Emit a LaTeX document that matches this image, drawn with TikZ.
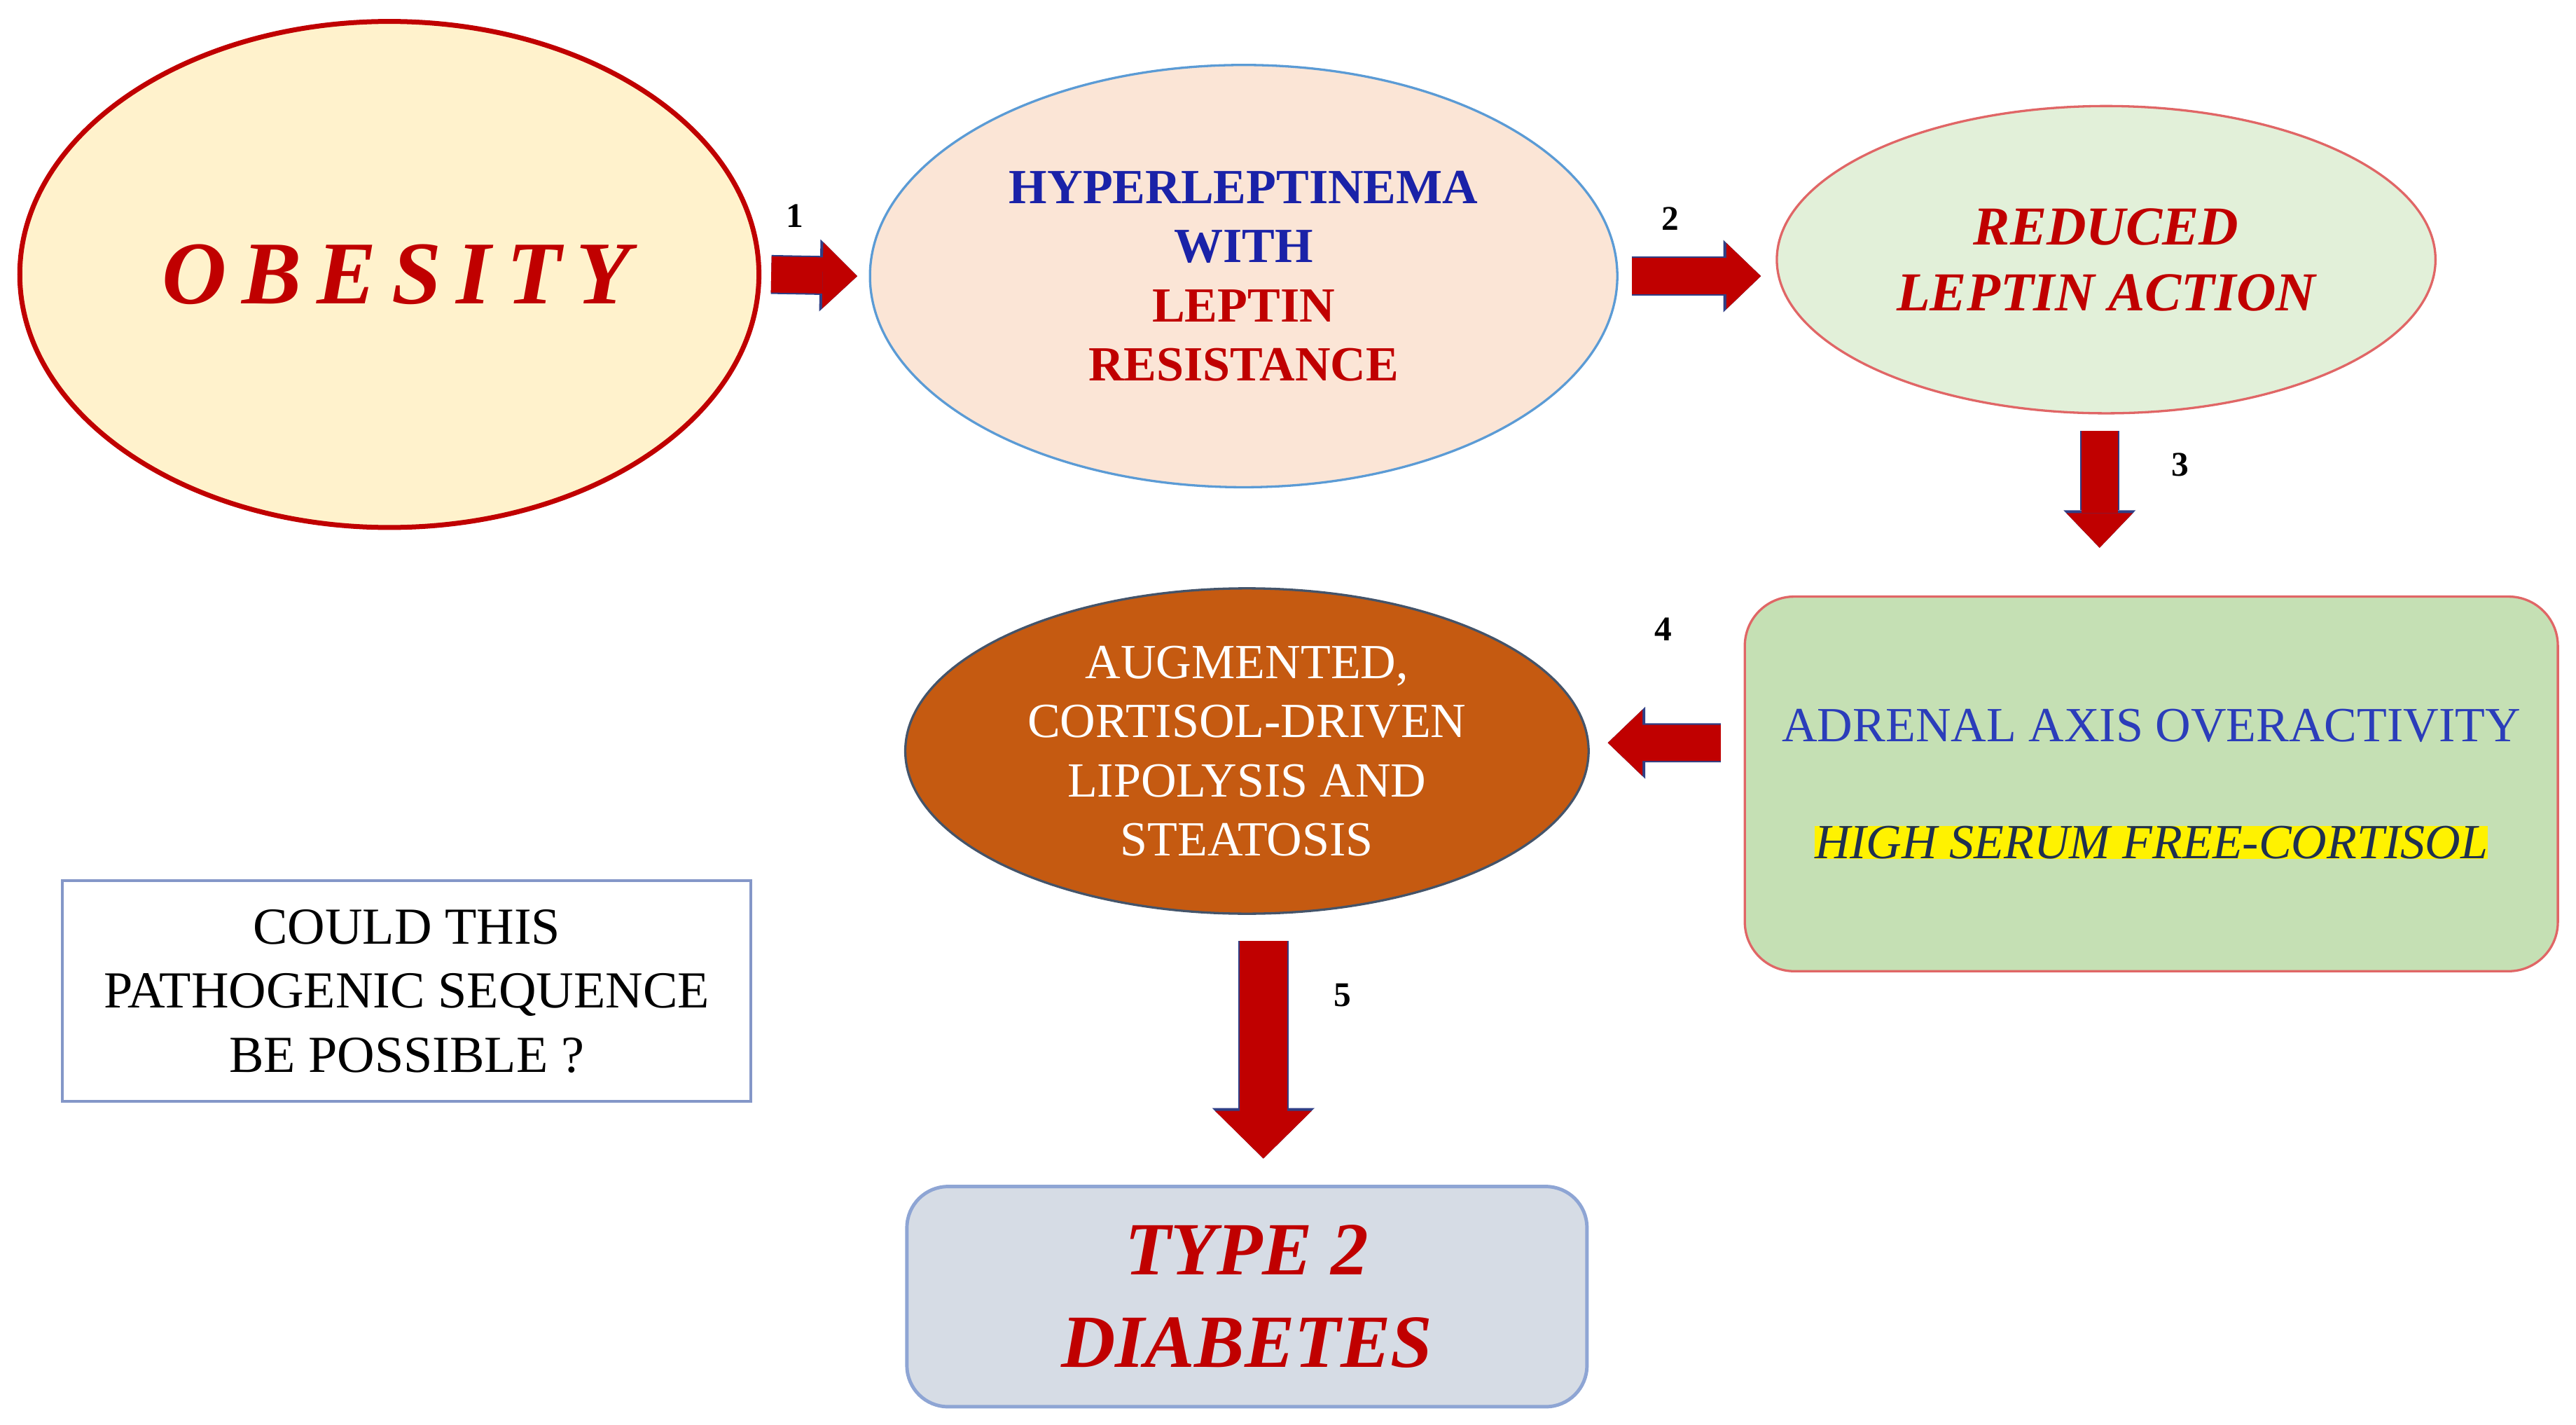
\documentclass[tikz,border=0pt]{standalone}
\usepackage{fontspec}
\setmainfont{Liberation Serif}
\usetikzlibrary{shapes.geometric,arrows.meta}
\definecolor{dred}{HTML}{C00000}
\definecolor{obesityfill}{HTML}{FFF2CC}
\definecolor{hyperfill}{HTML}{FBE5D6}
\definecolor{hyperline}{HTML}{5B9BD5}
\definecolor{textblue}{HTML}{1A22A8}
\definecolor{reducedfill}{HTML}{E2F0D9}
\definecolor{reducedline}{HTML}{E06666}
\definecolor{adrenalfill}{HTML}{C5E0B4}
\definecolor{adrenalblue}{HTML}{2B3DBA}
\definecolor{serumtext}{HTML}{1F3050}
\definecolor{lipofill}{HTML}{C55A11}
\definecolor{lipoline}{HTML}{44546A}
\definecolor{queryline}{HTML}{8497C8}
\definecolor{diabfill}{HTML}{D6DCE5}
\definecolor{diabline}{HTML}{8EA5D4}
\definecolor{arrowblue}{HTML}{2F3F86}
\begin{document}
\begin{tikzpicture}[x=0.02cm,y=-0.02cm,line width=0.8pt,
  bubble/.style={ellipse,inner sep=0pt,align=center},
  card/.style={rectangle,inner sep=0pt,align=center},
  blockarrow/.style={draw=dred,line width=12.5pt,-{Triangle[length=12pt,width=23pt,line width=0pt]},
    preaction={draw=arrowblue,line width=13.5pt,-{Triangle[length=13pt,width=25pt,line width=0pt]}}},
  bigarrow/.style={draw=dred,line width=16.5pt,-{Triangle[length=16.5pt,width=33.5pt,line width=0pt]},
    preaction={draw=arrowblue,line width=17.5pt,-{Triangle[length=17.5pt,width=35.5pt,line width=0pt]}}},
  num/.style={text=black,font=\fontsize{12}{12}\selectfont\bfseries}]
%\draw[help lines] (0,0) grid[step=100] (1568,867);
\useasboundingbox (0,0) rectangle (1568,867);
\node[bubble,draw=dred,line width=1.7pt,fill=obesityfill,minimum width=9cm,minimum height=6.16cm,text=dred,font=\fontsize{31}{31}\selectfont\bfseries\itshape] (obesity) at (237,167) {\addfontfeature{LetterSpace=17}OBESITY\hspace{-5pt}};
\node[bubble,draw=hyperline,fill=hyperfill,minimum width=9.1cm,minimum height=5.14cm,font=\fontsize{17}{20.5}\selectfont\bfseries] (hyper) at (757,168) {\textcolor{textblue}{HYPERLEPTINEMA}\\ \textcolor{textblue}{WITH}\\ \textcolor{dred}{LEPTIN}\\ \textcolor{dred}{RESISTANCE}};
\node[bubble,draw=reducedline,fill=reducedfill,minimum width=8.02cm,minimum height=3.74cm,text=dred,font=\fontsize{19}{22.8}\selectfont\bfseries\itshape] (reduced) at (1282,158) {REDUCED\\LEPTIN ACTION};
\node[card,rounded corners=0.6cm,draw=reducedline,fill=adrenalfill,minimum width=9.9cm,minimum height=4.56cm,font=\fontsize{17}{20.5}\selectfont] (adrenal) at (1309.5,477) {\textcolor{adrenalblue}{ADRENAL AXIS OVERACTIVITY}\\[20pt] \setlength{\fboxsep}{0pt}\colorbox{yellow}{\itshape\color{serumtext}HIGH SERUM FREE-CORTISOL}};
\node[bubble,draw=lipoline,fill=lipofill,minimum width=8.32cm,minimum height=3.96cm,text=white,font=\fontsize{17}{20.5}\selectfont] (lipolysis) at (759,457) {AUGMENTED,\\CORTISOL-DRIVEN\\LIPOLYSIS AND\\STEATOSIS};
\node[card,draw=queryline,line width=1pt,fill=white,minimum width=8.38cm,minimum height=2.68cm,font=\fontsize{18}{22.2}\selectfont] (query) at (247.5,603) {COULD THIS\\PATHOGENIC SEQUENCE\\BE POSSIBLE ?};
\node[card,rounded corners=0.5cm,draw=diabline,line width=1.2pt,fill=diabfill,minimum width=8.28cm,minimum height=2.68cm,text=dred,font=\fontsize{26}{32}\selectfont\bfseries\itshape] (diabetes) at (759,789) {TYPE 2\\DIABETES};
\draw[blockarrow] ([xshift=0.12cm]obesity.east) -- ([xshift=-0.14cm]hyper.west) node[num,pos=0.27,yshift=0.72cm] (n1) {1};
\draw[blockarrow] ([xshift=0.16cm]hyper.east) -- ([xshift=-0.18cm]hyper.east -| reduced.west) node[num,pos=0.3,yshift=0.7cm] (n2) {2};
\draw[blockarrow] ([shift={(-0.08cm,-0.2cm)}]reduced.south) -- ([shift={(-0.08cm,0.58cm)}]reduced.south |- adrenal.north) node[num,pos=0.29,xshift=0.98cm] (n3) {3};
\draw[blockarrow] ([shift={(-0.28cm,0.5cm)}]adrenal.west) -- ([shift={(0.22cm,0.1cm)}]lipolysis.east) node[num,pos=0.51,yshift=1.38cm] (n4) {4};
\draw[bigarrow] ([shift={(0.2cm,-0.32cm)}]lipolysis.south) -- ([shift={(0.2cm,0.32cm)}]diabetes.north) node[num,pos=0.25,xshift=0.96cm] (n5) {5};
\end{tikzpicture}
\end{document}
